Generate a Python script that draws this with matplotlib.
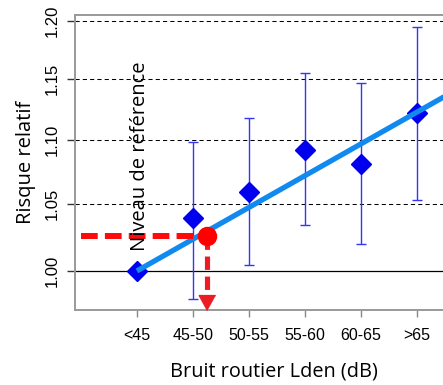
import numpy as np
import matplotlib
matplotlib.use("Agg")
import matplotlib.pyplot as plt
from matplotlib.ticker import FixedLocator, FixedFormatter, NullLocator

# data
categories = ["<45", "45-50", "50-55", "55-60", "60-65", ">65"]
rr = [1.000, 1.039, 1.059, 1.092, 1.081, 1.122]
ci_low = [1.000, 0.980, 1.004, 1.034, 1.020, 1.053]
ci_high = [1.000, 1.099, 1.118, 1.155, 1.147, 1.195]
reg_x = [1.0, 7.0]
reg_y = [1.000, 1.149]
ref_x = 2.245
ref_y = 1.0255
ytick_vals = [1.00, 1.05, 1.10, 1.15, 1.20]
ytick_labels = ["1.00", "1.05", "1.10", "1.15", "1.20"]

label_font = "Open Sans"
tick_font = "Liberation Sans"

fig = plt.figure(figsize=(4.43, 3.85), dpi=100)
ax = fig.add_axes([75 / 443, 75 / 385, 397.6 / 443, 295 / 385])
ax.set_yscale("log")
ax.set_xlim(-0.107, 7.0)
ax.set_ylim(0.9719, 1.2053)

x = np.arange(1, len(categories) + 1)

# reference grid lines
for v in ytick_vals[1:]:
    ax.axhline(v, color="black", lw=0.75, ls=(0, (4, 3)), zorder=1)
ax.axhline(1.0, color="black", lw=0.9, zorder=1)

# confidence intervals (not for the reference class)
ax.errorbar(x[1:], rr[1:],
            yerr=[np.array(rr[1:]) - np.array(ci_low[1:]),
                  np.array(ci_high[1:]) - np.array(rr[1:])],
            fmt="none", ecolor="#3535f5", elinewidth=1, capsize=3.6,
            capthick=1, zorder=2)
ax.plot(x, rr, ls="none", marker="D", ms=10.5, color="#0000ee", zorder=3)

# trend line
ax.plot(reg_x, reg_y, color="#118af0", lw=3.8, solid_capstyle="butt", zorder=4)

# reference level
ax.plot([0.0, ref_x], [ref_y, ref_y], color="#ff0a0a", lw=4.3,
        dashes=(2.8, 1.2), zorder=5)
ax.plot([ref_x, ref_x], [ref_y, 0.985], color="#ed1c24", lw=3.7,
        dashes=(2.6, 1.3), zorder=5)
ax.plot([ref_x], [ax.get_ylim()[0]], marker=[(0, 0), (-0.55, 1), (0.55, 1)],
        ms=21.5, color="#ed1c24", clip_on=False, zorder=6)
ax.plot([ref_x], [ref_y], marker="o", ms=13, color="#ff0000", zorder=7)

ax.text(1.05, 1.0876, "Niveau de référence", rotation=90, ha="center",
        va="center", fontsize=14.5, family=label_font, zorder=8)

# axes styling
for side in ["left", "bottom", "top", "right"]:
    ax.spines[side].set_color("#999999")
    ax.spines[side].set_linewidth(1.4)

ax.yaxis.set_major_locator(FixedLocator(ytick_vals))
ax.yaxis.set_major_formatter(FixedFormatter(ytick_labels))
ax.yaxis.set_minor_locator(NullLocator())
ax.set_xticks(x)
ax.set_xticklabels(categories)
ax.tick_params(axis="y", length=6, width=1, color="#333333", pad=5,
               labelsize=12, labelrotation=90)
ax.tick_params(axis="x", length=5, width=1, color="#888888", pad=8,
               labelsize=11.5)
for lab in ax.get_yticklabels():
    lab.set_family(tick_font)
    lab.set_va("center")
for lab in ax.get_xticklabels():
    lab.set_family(tick_font)

ax.set_xlabel("Bruit routier Lden (dB)", fontsize=14.3, family=label_font,
              labelpad=13)
ax.set_ylabel("Risque relatif", fontsize=14.5, family=label_font, labelpad=6)

fig.savefig("out.png", dpi=100)
